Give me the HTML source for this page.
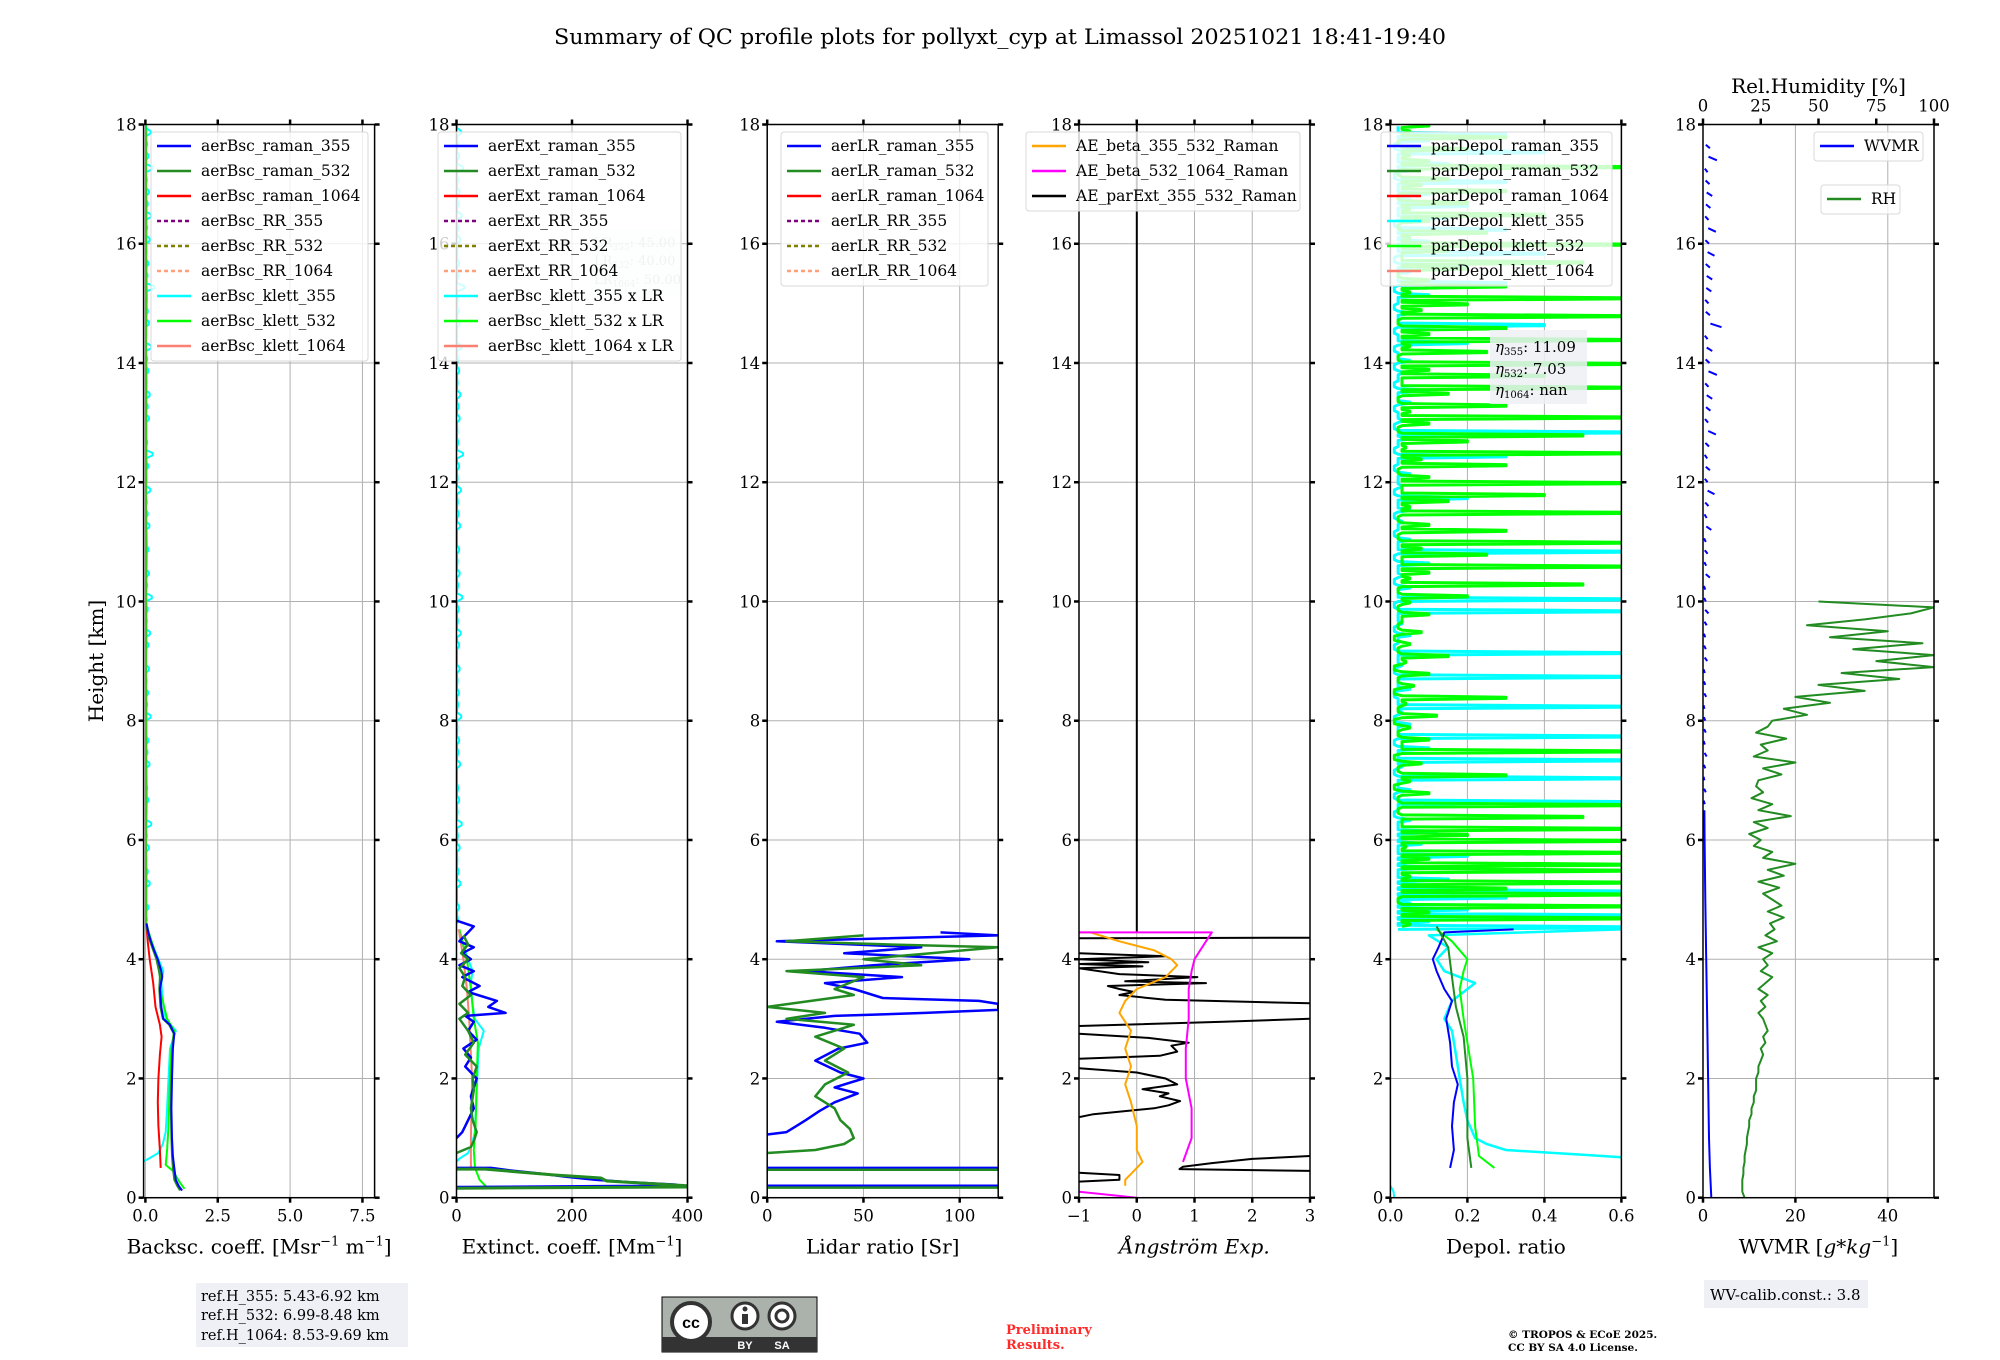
<!DOCTYPE html>
<html><head><meta charset="utf-8"><style>
html,body{margin:0;padding:0;background:#fff;}
svg{display:block;font-family:"DejaVu Serif","Liberation Serif",serif;}
</style></head><body>
<svg id="fig" xmlns="http://www.w3.org/2000/svg" width="2000" height="1360" viewBox="0 0 2000 1360">
<rect x="0" y="0" width="2000" height="1360" fill="#fff"/>
<text x="1000" y="44" text-anchor="middle" font-size="21" textLength="892" lengthAdjust="spacingAndGlyphs">Summary of QC profile plots for pollyxt_cyp at Limassol 20251021 18:41-19:40</text>
<text transform="translate(103,661) rotate(-90)" text-anchor="middle" font-size="20">Height [km]</text>
<g id="panels"></g>
<g>
<rect x="196" y="1283" width="212" height="64" fill="#eef0f5"/>
<text x="201" y="1301" font-size="14.5">ref.H_355: 5.43-6.92 km</text>
<text x="201" y="1320" font-size="14.5">ref.H_532: 6.99-8.48 km</text>
<text x="201" y="1340" font-size="14.5">ref.H_1064: 8.53-9.69 km</text>
</g>
<g>
<rect x="662" y="1297" width="155" height="55" fill="#aab2ab" stroke="#000" stroke-width="1"/>
<rect x="662" y="1337" width="155" height="15" fill="#333"/>
<circle cx="691" cy="1322" r="19" fill="#fff" stroke="#333" stroke-width="4"/>
<text x="691" y="1328" text-anchor="middle" font-size="16" font-weight="bold" font-family="Liberation Sans,sans-serif">cc</text>
<circle cx="745" cy="1316" r="13" fill="#fff" stroke="#333" stroke-width="3"/>
<rect x="742" y="1314" width="6" height="10" fill="#333"/><circle cx="745" cy="1309" r="2.5" fill="#333"/>
<circle cx="782" cy="1316" r="13" fill="#fff" stroke="#333" stroke-width="3"/>
<circle cx="782" cy="1316" r="6" fill="none" stroke="#333" stroke-width="3"/>
<text x="745" y="1349" text-anchor="middle" font-size="11" font-weight="bold" fill="#fff" font-family="Liberation Sans,sans-serif">BY</text>
<text x="782" y="1349" text-anchor="middle" font-size="11" font-weight="bold" fill="#fff" font-family="Liberation Sans,sans-serif">SA</text>
</g>
<g fill="#ff2a2a" font-size="13" font-weight="bold">
<text x="1006" y="1334">Preliminary</text><text x="1006" y="1349">Results.</text>
</g>
<g font-size="10.5" font-weight="bold">
<text x="1508" y="1338">© TROPOS &amp; ECoE 2025.</text><text x="1508" y="1351">CC BY SA 4.0 License.</text>
</g>
<g>
<rect x="1704" y="1280" width="164" height="28" fill="#eef0f5"/>
<text x="1710" y="1300" font-size="15">WV-calib.const.: 3.8</text>
</g>
</svg>
<script>
// ---------------- data ----------------
const bscH355=[0.12,0.2,0.3,0.5,0.7,1.0,1.5,2.0,2.5,2.75,2.9,3.0,3.2,3.5,3.7,3.8,4.0,4.15,4.3,4.45,4.6];
const bscRaman355=[1.27,1.15,1.05,1.0,0.95,0.92,0.9,0.92,0.95,1.0,0.85,0.62,0.55,0.5,0.58,0.55,0.43,0.3,0.19,0.1,0.04];
const bscRaman532=[1.2,1.1,1.0,0.95,0.92,0.9,0.88,0.9,0.93,0.98,0.82,0.6,0.52,0.48,0.5,0.47,0.38,0.27,0.16,0.08,0.03];
const bscH1064=[0.5,0.8,1.2,1.6,2.0,2.4,2.7,2.9,3.2,3.6,4.0,4.3,4.6];
const bscRaman1064=[0.53,0.5,0.45,0.43,0.45,0.5,0.56,0.5,0.35,0.27,0.15,0.08,0.03];
const bscHK532=[0.15,0.25,0.45,0.55,0.8,1.2,2.0,2.5,2.8,3.0,3.4,3.8,4.1,4.4,4.6];
const bscKlett532=[1.35,1.2,0.95,0.7,0.75,0.8,0.85,0.9,1.0,0.75,0.55,0.5,0.35,0.15,0.03];
const bscHK355=[0.6,0.65,0.75,0.9,1.1,1.5,2.0,2.5,2.8,3.0,3.3,3.6,3.8,4.0,4.3,4.5];
const bscKlett355=[-0.1,0.1,0.45,0.6,0.7,0.75,0.8,0.85,1.05,0.7,0.6,0.55,0.62,0.45,0.2,0.08];
const bscHighStart=4.6, bscHighStep=0.2;
const bscKlett355High=[0.05,0.1,0.02,0.15,0.08,0.03,0.12,0.05,0.2,0.04,0.1,0.06,0.02,0.14,0.07,0.1,0.03,0.18,0.06,0.09,0.04,0.12,0.02,0.1,0.16,0.05,0.08,0.22,0.06,0.12,0.04,0.1,0.02,0.14,0.08,0.05,0.17,0.04,0.1,0.25,0.06,0.03,0.12,0.08,0.15,0.04,0.1,0.06,0.2,0.03,0.12,0.08,0.05,0.3,0.07,0.1,0.04,0.15,0.06,0.2,0.08,0.12,0.05,0.25,0.1,0.06,0.18,0.08];
const bscKlett1064High=[0.04,0.05,0.03,0.06,0.04,0.05,0.03,0.05,0.04,0.06,0.03,0.05,0.04,0.05,0.03,0.06,0.04,0.05,0.03,0.04];
const extH355=[0.18,0.2,0.22,0.26,0.3,0.35,0.4,0.45,0.5,0.5];
const extNear355=[0,350,380,300,240,190,150,100,60,0];
const extNear532=[0,400,400,330,260,250,170,110,50,0];
const extHR355=[1.0,1.1,1.3,1.5,1.7,2.0,2.2,2.35,2.5,2.65,2.8,2.95,3.05,3.1,3.2,3.3,3.45,3.55,3.7,3.8,3.9,4.0,4.1,4.2,4.3,4.45,4.55,4.65];
const extRaman355=[0,10,20,30,25,35,15,25,12,35,20,30,15,85,55,70,20,40,10,30,5,25,10,30,5,20,30,0];
const extHR532=[0.75,0.85,0.95,1.1,1.3,1.5,1.8,2.0,2.2,2.4,2.6,2.8,3.0,3.1,3.25,3.4,3.55,3.7,3.85,4.0,4.1,4.25,4.4];
const extRaman532=[0,25,30,35,28,25,30,28,35,15,30,20,5,20,5,25,10,15,5,20,8,20,12];
const extHK532=[0.15,0.3,0.5,0.8,1.2,2.0,2.6,3.0,3.5,4.0,4.5];
const extKlett532=[55,40,32,30,33,35,37,30,25,18,5];
const extHK1064=[0.5,1.0,2.0,3.0,3.5,4.0,4.5];
const extKlett1064=[25,25,27,22,18,12,4];
const lrH355=[1.06,1.1,1.2,1.3,1.45,1.6,1.75,1.85,2.0,2.1,2.3,2.5,2.6,2.75,2.85,2.95,3.05,3.1,3.15,3.25,3.3,3.35,3.5,3.6,3.7,3.8,3.9,4.0,4.1,4.2,4.3,4.4,4.45];
const lrRaman355=[0,10,15,20,27,35,47,35,50,38,25,37,52,48,30,5,35,82,120,120,110,60,45,30,70,20,55,105,40,80,5,120,90];
const lrH532=[0.75,0.8,0.9,1.0,1.15,1.3,1.5,1.7,1.9,2.1,2.3,2.5,2.7,2.9,3.0,3.1,3.2,3.4,3.5,3.7,3.8,3.9,4.0,4.1,4.2,4.25,4.3,4.4];
const lrRaman532=[0,25,40,45,43,38,35,25,30,42,30,40,25,45,10,30,0,45,35,50,10,80,50,85,120,60,10,50];
const lrSurfaceH=[0.2,0.5];
const aeH355532=[0.2,0.3,0.4,0.6,0.8,1.2,1.6,1.9,2.2,2.5,2.8,3.1,3.3,3.5,3.7,3.9,4.0,4.15,4.3,4.45,4.45];
const aeBeta355532=[-0.2,-0.2,-0.1,0.1,0.0,0.0,-0.1,-0.2,-0.1,-0.2,-0.1,-0.3,-0.2,0.0,0.5,0.7,0.6,0.3,-0.3,-0.8,-1.0];
const aeH5321064=[0.0,0.1,NaN,0.6,1.0,1.5,2.0,2.5,3.0,3.5,3.8,4.0,4.3,4.45,4.45];
const aeBeta5321064=[0.0,-1.0,NaN,0.8,0.95,0.95,0.85,0.85,0.9,0.9,0.95,1.0,1.2,1.3,-1.0];
const aeHparExt=[0.27,0.3,0.38,0.42,NaN,0.45,0.48,0.52,0.58,0.65,0.7,NaN,1.35,1.4,1.5,1.55,1.62,1.7,1.75,1.82,1.9,2.0,2.1,2.17,NaN,2.33,2.38,2.45,2.55,2.6,2.68,2.75,NaN,2.88,2.95,3.0,NaN,3.26,3.32,3.4,3.45,3.5,3.55,3.6,3.63,3.7,3.75,3.85,3.88,3.92,3.95,4.0,4.05,4.1,NaN,4.35,4.36,NaN,4.45,18];
const aeParExt=[-1,-0.3,-0.3,-1,NaN,3,0.74,0.8,1.3,2,3,NaN,-1,-0.75,0.3,0.55,0.75,0.4,0.55,0.1,0.7,0.5,0,-1,NaN,-1,0.4,0.7,0.6,0.9,0.2,-1,NaN,-1,1.5,3,NaN,3,0.5,-0.3,-0.05,-0.3,-0.5,1.2,-0.2,1.05,-0.3,-1,0.1,-1,0.2,-1,0.5,-1,NaN,-1,3,NaN,0,0];
const dpH355=[0.5,0.8,1.2,1.6,1.9,2.2,2.6,3.0,3.3,3.5,3.8,4.0,4.2,4.35,4.45,4.5];
const dpRaman355=[0.155,0.165,0.16,0.165,0.175,0.16,0.155,0.145,0.16,0.14,0.12,0.11,0.125,0.135,0.14,0.32];
const dpH532=[0.5,1.0,2.0,2.7,3.2,3.7,4.2,4.55];
const dpRaman532=[0.21,0.2,0.2,0.19,0.17,0.16,0.15,0.12];
const dpHK532=[0.5,0.7,1.2,2.0,2.6,3.0,3.5,3.8,4.0,4.3,4.5];
const dpKlett532Low=[0.27,0.23,0.22,0.215,0.2,0.19,0.18,0.19,0.2,0.16,0.12];
const dpHK355=[0.65,0.68,0.72,0.8,0.9,1.0,1.3,1.6,2.0,2.4,2.8,3.0,3.3,3.6,3.8,4.0,4.2,4.4,4.5];
const dpKlett355Low=[0.6,0.6,0.5,0.3,0.25,0.22,0.2,0.19,0.18,0.17,0.16,0.14,0.16,0.22,0.14,0.12,0.15,0.1,0.6];
const dpHighStart=4.5, dpHighStep=0.1;
const dpKlett532High=[0.05,0.6,0.1,0.6,0.02,0.6,0.3,0.6,0.05,0.6,0.6,0.1,0.6,0.04,0.6,0.2,0.6,0.03,0.5,0.02,
0.6,0.02,0.1,0.01,0.05,0.3,0.02,0.08,0.01,0.6,0.03,0.1,0.02,0.05,0.01,0.12,0.02,0.04,0.3,0.01,0.06,0.02,0.1,0.01,0.04,0.15,0.02,0.05,0.01,0.08,0.02,0.03,0.1,0.02,0.05,
0.2,0.02,0.5,0.05,0.1,0.6,0.03,0.25,0.08,0.6,0.02,0.3,0.1,0.02,0.6,0.05,0.15,0.4,0.03,0.6,0.1,0.02,0.3,0.08,0.6,0.04,0.2,0.5,0.02,0.1,0.6,0.05,0.3,0.02,0.15,0.6,0.03,0.4,0.1,0.6,0.02,0.25,0.05,0.6,0.1,0.3,0.02,0.6,0.08,0.2,
0.6,0.05,0.3,0.1,0.02,0.2,0.5,0.03,0.15,0.6,0.05,0.25,0.02,0.1,0.4,0.05,0.2,0.02,0.3,0.08,0.15,0.02,0.6,0.1,0.05,0.2,0.02,0.3,0.05,0.1];
const dpKlett355High=[0.6,0.1,0.6,0.2,0.05,0.3,0.6,0.08,0.15,0.02,0.1,0.05,0.2,0.02,0.08,0.03,0.12,0.02,0.05,0.01,
0.02,0.6,0.01,0.05,0.02,0.6,0.01,0.03,0.6,0.02,0.1,0.01,0.6,0.02,0.05,0.01,0.03,0.6,0.02,0.01,0.05,0.02,0.6,0.01,0.03,0.02,0.6,0.01,0.02,0.05,0.01,0.03,0.02,0.6,0.01,
0.6,0.02,0.05,0.01,0.03,0.02,0.1,0.01,0.6,0.02,0.05,0.01,0.02,0.03,0.01,0.05,0.02,0.2,0.01,0.03,0.02,0.05,0.01,0.02,0.3,0.01,0.02,0.05,0.6,0.01,0.03,0.02,0.01,0.05,0.02,0.1,0.01,0.02,0.03,0.01,0.05,0.02,0.01,0.2,0.02,0.01,0.4,0.02,0.05,0.01,
0.02,0.1,0.01,0.3,0.02,0.05,0.2,0.01,0.4,0.02,0.1,0.05,0.3,0.01,0.15,0.02,0.2,0.05,0.1,0.02,0.3,0.01,0.05,0.15,0.02,0.4,0.01,0.1,0.3,0.02];
const dpSurfH=[0.0,0.1,0.2];
const dpSurf355=[0.01,0.008,0.0];
const wvH=[0.0,0.5,1.0,2.0,3.0,4.0,5.0,6.0,6.5];
const wvmr=[1.8,1.5,1.3,1.1,0.9,0.7,0.5,0.35,0.3];
const wvHighStart=6.6, wvHighStep=0.2;
const wvmrHigh=[0.4,0.6,0.3,0.5,0.8,0.4,0.6,0.5,0.3,0.7,0.5,0.4,0.9,0.6,0.5,0.8,1.2,0.6,0.5,1.5,0.7,1.0,0.6,1.8,0.8,1.2,2.5,1.0,1.5,0.9,1.3,2.8,1.1,1.6,2.0,1.2,3.0,1.4,2.0,1.0,4.0,1.5,1.2,1.8,2.0,1.5,2.5,1.3,2.8,1.2,1.6,2.0,1.4,1.0,3.0,1.5];
const rhStep=0.1;
const rhValues=[18,17,17,17,17.5,17.5,18,18,18.5,19,
19,19.5,20,20,21,21,22,22,23,23,
23,24,24,25,26,25,27,26,28,27,
26,24,27,25,28,24,27,30,25,28,
26,30,24,32,27,31,29,35,28,34,
30,26,33,24,35,28,40,26,30,22,
25,20,28,22,38,24,30,21,26,23,
24,34,26,40,22,28,25,36,23,28,
30,45,35,55,40,70,50,85,60,100,
75,100,65,95,55,80,45,70,90,100,50];
const yTicks=[0,2,4,6,8,10,12,14,16,18];
const p1Ticks=[0,2.5,5,7.5], p1Labels=["0.0","2.5","5.0","7.5"];
const p2Ticks=[0,200,400], p2Labels=["0","200","400"];
const p3Ticks=[0,50,100], p3Labels=["0","50","100"];
const p4Ticks=[-1,0,1,2,3], p4Labels=["\u22121","0","1","2","3"];
const p5Ticks=[0,0.2,0.4,0.6], p5Labels=["0.0","0.2","0.4","0.6"];
const p6Ticks=[0,20,40], p6Labels=["0","20","40"];
const rhTicks=[0,25,50,75,100], rhLabels=["0","25","50","75","100"];

// ---------------- drawing ----------------
const NS="http://www.w3.org/2000/svg";
const root=document.getElementById('panels');
const TOP=124.5, BOT=1197.7, W=231, HMAX=18;
function ys(h){return BOT-(h/HMAX)*(BOT-TOP);}
function mk(tag,attrs,parent){const e=document.createElementNS(NS,tag);for(const k in attrs)e.setAttribute(k,attrs[k]);(parent||root).appendChild(e);return e;}
function makePanel(id,left,xmin,xmax){
  const g=mk('g',{});
  
  
  const cp=mk('clipPath',{id:'clip-'+id},g);
  mk('rect',{x:left,y:TOP,width:W,height:BOT-TOP},cp);
  const P={g,left,xmin,xmax,xs:v=>left+(v-xmin)/(xmax-xmin)*W};
  P.grid=mk('g',{},g);
  P.data=mk('g',{'clip-path':'url(#clip-'+id+')'},g);
  P.axes=mk('g',{},g);
  return P;
}
function drawLine(P,hs,vs,color,width,name,dash,opacity){
  let d='',pen=false;
  for(let i=0;i<hs.length;i++){
    const h=hs[i],v=vs[i];
    if(isNaN(h)||isNaN(v)){pen=false;continue;}
    d+=(pen?'L':'M')+P.xs(v).toFixed(1)+' '+ys(h).toFixed(1);pen=true;
  }
  const e=mk('path',{d:d,fill:'none',stroke:color,'stroke-width':width,'stroke-linejoin':'round'},P.data);
  if(dash)e.setAttribute('stroke-dasharray',dash);
  if(opacity)e.setAttribute('stroke-opacity',opacity);
  
  
  return e;
}
// spiky profile: each value drawn as a near-horizontal excursion from a small baseline
function drawSpikes(P,start,step,vs,base,color,width,name){
  const hs=[],xs=[];
  vs.forEach((v,i)=>{const h=start+step*i;
    hs.push(h,h+step*0.25,h+step*0.45,h+step*0.7);
    xs.push(Math.min(v,base),v,v,Math.min(v,base));});
  return drawLine(P,hs,xs,color,width,name);
}
function stepHeights(start,step,n){const a=[];for(let i=0;i<n;i++)a.push(start+step*i);return a;}
function drawAxes(P,ticks,labels,title,topTicks){
  const {left}=P,right=left+W;
  ticks.forEach(t=>{const x=P.xs(t);mk('line',{x1:x,x2:x,y1:TOP,y2:BOT,stroke:'#b0b0b0','stroke-width':1},P.grid);});
  yTicks.forEach(h=>{const y=ys(h);mk('line',{x1:left,x2:right,y1:y,y2:y,stroke:'#b0b0b0','stroke-width':1},P.grid);});
  mk('rect',{x:left,y:TOP,width:W,height:BOT-TOP,fill:'none',stroke:'#000','stroke-width':1.5},P.axes);
  yTicks.forEach(h=>{const y=ys(h);
    mk('line',{x1:left-5,x2:left,y1:y,y2:y,stroke:'#000','stroke-width':2.5},P.axes);
    mk('line',{x1:right,x2:right+5,y1:y,y2:y,stroke:'#000','stroke-width':2.5},P.axes);
    const t=mk('text',{x:left-7,y:y+6,'text-anchor':'end','font-size':16.5},P.axes);t.textContent=String(h);
    
    
  });
  ticks.forEach((v,i)=>{const x=P.xs(v);
    mk('line',{x1:x,x2:x,y1:BOT,y2:BOT+5,stroke:'#000','stroke-width':2.5},P.axes);
    if(!topTicks)mk('line',{x1:x,x2:x,y1:TOP-5,y2:TOP,stroke:'#000','stroke-width':2.5},P.axes);
    const t=mk('text',{x:x,y:BOT+24,'text-anchor':'middle','font-size':16.5},P.axes);t.textContent=labels[i];
    
    
  });
  const tt=mk('text',{x:left+W/2,y:BOT+56,'text-anchor':'middle','font-size':20},P.axes);
  tt.innerHTML=title;
  
  
}
function legend(P,x,y,w,entries,name){
  const g=mk('g',{},P.g);
  
  
  mk('rect',{x:x,y:y,width:w,height:entries.length*25+4,rx:3,fill:'#fff','fill-opacity':0.8,stroke:'#d8d8d8','stroke-width':1},g);
  entries.forEach((e,i)=>{const yy=y+14+i*25;
    const l=mk('line',{x1:x+6,x2:x+40,y1:yy,y2:yy,stroke:e[1],'stroke-width':2.5},g);
    if(e[2])l.setAttribute('stroke-dasharray','4,3');
    const t=mk('text',{x:x+50,y:yy+5,'font-size':15.5},g);t.textContent=e[0];
    
    
  });
}
const lefts=[143.6,456.5,767.2,1079,1390.4,1703];
// Panel 1
let P=makePanel('backscatter-panel',lefts[0],-0.062,7.92);
drawSpikes(P,bscHighStart,bscHighStep,bscKlett355High,0.02,'#00ffff',2,'bsc-klett-355-high');
drawLine(P,stepHeights(4.6,0.7,bscKlett1064High.length),bscKlett1064High,'#fa8072',1.5,'bsc-klett-1064-high');
drawLine(P,[4.6,18],[0.02,0.02],'#00dd00',1.5,'bsc-klett-532-high');
drawLine(P,bscHK355,bscKlett355,'#00ffff',2,'bsc-klett-355');
drawLine(P,bscHK532,bscKlett532,'#00ff00',2,'bsc-klett-532');
drawLine(P,bscH1064,bscRaman1064,'#ff0000',2,'bsc-raman-1064');
drawLine(P,bscH355,bscRaman532,'#228b22',2,'bsc-raman-532');
drawLine(P,bscH355,bscRaman355,'#0000ff',2,'bsc-raman-355');
drawAxes(P,p1Ticks,p1Labels,'Backsc. coeff. [Msr<tspan dy="-8" font-size="13">\u22121</tspan><tspan dy="8"> m</tspan><tspan dy="-8" font-size="13">\u22121</tspan><tspan dy="8">]</tspan>');
legend(P,151,132,217,[['aerBsc_raman_355','#0000ff'],['aerBsc_raman_532','#228b22'],['aerBsc_raman_1064','#ff0000'],['aerBsc_RR_355','#800080',1],['aerBsc_RR_532','#808000',1],['aerBsc_RR_1064','#ffa07a',1],['aerBsc_klett_355','#00ffff'],['aerBsc_klett_532','#00ff00'],['aerBsc_klett_1064','#fa8072']],'backscatter-legend');
// Panel 2
P=makePanel('extinction-panel',lefts[1],0,400);
drawSpikes(P,bscHighStart,bscHighStep,bscKlett355High.map(v=>v*45),1,'#00ffff',2,'ext-klett-355-high');
drawLine(P,bscHK355,bscKlett355.map(v=>Math.max(v,0)*45),'#00ffff',2,'ext-klett-355');
drawLine(P,extHK532,extKlett532,'#00ff00',2,'ext-klett-532');
drawLine(P,extHK1064,extKlett1064,'#fa8072',2,'ext-klett-1064');
drawLine(P,extHR355,extRaman355,'#0000ff',2.5,'ext-raman-355');
drawLine(P,extHR532,extRaman532,'#228b22',2.5,'ext-raman-532');
drawLine(P,extH355,extNear355,'#0000ff',2.5,'ext-raman-355-near');
drawLine(P,extH355.map(h=>h-0.02),extNear532,'#228b22',3,'ext-raman-532-near');
drawAxes(P,p2Ticks,p2Labels,'Extinct. coeff. [Mm<tspan dy="-8" font-size="13">\u22121</tspan><tspan dy="8">]</tspan>');
const lrb=mk('g',{},P.g);


mk('rect',{x:590,y:230,width:92,height:65,fill:'#eef0f5','fill-opacity':0.5},lrb);
[['LR',"355",': 45.00',247],['LR',"532",': 40.00',265],['LR',"1064",': 50.00',284]].forEach(a=>{const t=mk('text',{x:594,y:a[3],'font-size':13,fill:'#bbb'},lrb);t.innerHTML=a[0]+'<tspan dy="3" font-size="9">'+a[1]+'</tspan><tspan dy="-3">'+a[2]+'</tspan>';});
legend(P,438,132,243,[['aerExt_raman_355','#0000ff'],['aerExt_raman_532','#228b22'],['aerExt_raman_1064','#ff0000'],['aerExt_RR_355','#800080',1],['aerExt_RR_532','#808000',1],['aerExt_RR_1064','#ffa07a',1],['aerBsc_klett_355 x LR','#00ffff'],['aerBsc_klett_532 x LR','#00ff00'],['aerBsc_klett_1064 x LR','#fa8072']],'extinction-legend');
// Panel 3
P=makePanel('lidar-ratio-panel',lefts[2],0,120);
lrSurfaceH.forEach(h=>{drawLine(P,[h,h],[0,120],'#0000ff',2.5,'lr-raman-355-surface');drawLine(P,[h-0.03,h-0.03],[0,120],'#228b22',2.5,'lr-raman-532-surface');});
drawLine(P,lrH355,lrRaman355,'#0000ff',2.5,'lr-raman-355');
drawLine(P,lrH532,lrRaman532,'#228b22',2.5,'lr-raman-532');
drawAxes(P,p3Ticks,p3Labels,'Lidar ratio [Sr]');
legend(P,781,132,207,[['aerLR_raman_355','#0000ff'],['aerLR_raman_532','#228b22'],['aerLR_raman_1064','#ff0000'],['aerLR_RR_355','#800080',1],['aerLR_RR_532','#808000',1],['aerLR_RR_1064','#ffa07a',1]],'lidar-ratio-legend');
// Panel 4
P=makePanel('angstrom-panel',lefts[3],-1,3);
drawLine(P,aeHparExt,aeParExt,'#000',2,'ae-parext-355-532');
drawLine(P,aeH355532,aeBeta355532,'#ffa500',2,'ae-beta-355-532');
drawLine(P,aeH5321064,aeBeta5321064,'#ff00ff',2,'ae-beta-532-1064');
drawAxes(P,p4Ticks,p4Labels,'<tspan font-style="italic">Ångström Exp.</tspan>');
legend(P,1026,132,274,[['AE_beta_355_532_Raman','#ffa500'],['AE_beta_532_1064_Raman','#ff00ff'],['AE_parExt_355_532_Raman','#000']],'angstrom-legend');
// Panel 5
P=makePanel('depol-panel',lefts[4],0,0.6);
drawSpikes(P,dpHighStart,dpHighStep,dpKlett355High,0.02,'#00ffff',3,'depol-klett-355-high');
drawSpikes(P,dpHighStart+0.05,dpHighStep,dpKlett532High,0.03,'#00ff00',3,'depol-klett-532-high');
drawLine(P,dpSurfH,dpSurf355,'#00ffff',2,'depol-klett-355-surface');
drawLine(P,dpHK355,dpKlett355Low,'#00ffff',2.5,'depol-klett-355');
drawLine(P,dpHK532,dpKlett532Low,'#00ff00',2,'depol-klett-532');
drawLine(P,dpH355,dpRaman355,'#0000ff',2,'depol-raman-355');
drawLine(P,dpH532,dpRaman532,'#228b22',2,'depol-raman-532');
drawAxes(P,p5Ticks,p5Labels,'Depol. ratio');
legend(P,1381,132,231,[['parDepol_raman_355','#0000ff'],['parDepol_raman_532','#228b22'],['parDepol_raman_1064','#ff0000'],['parDepol_klett_355','#00ffff'],['parDepol_klett_532','#00ff00'],['parDepol_klett_1064','#fa8072']],'depol-legend');
const eta=mk('g',{},P.g);


mk('rect',{x:1490,y:330,width:97,height:74,fill:'#eef0f5','fill-opacity':0.85},eta);
[['355',': 11.09',352],['532',': 7.03',374],['1064',': nan',395]].forEach(a=>{const t=mk('text',{x:1495,y:a[2],'font-size':15},eta);t.innerHTML='<tspan font-style="italic">η</tspan><tspan dy="3" font-size="10">'+a[0]+'</tspan><tspan dy="-3">'+a[1]+'</tspan>';});
// Panel 6
P=makePanel('water-vapor-panel',lefts[5],0,50);
drawLine(P,wvH,wvmr,'#0000ff',2,'wvmr-low');
wvmrHigh.forEach((v,i)=>{const h=wvHighStart+wvHighStep*i;drawLine(P,[h,h+0.06],[v,v*0.4],'#0000ff',2,'wvmr-dash');});
drawLine(P,stepHeights(0,rhStep,rhValues.length),rhValues.map(v=>v/2),'#228b22',2,'rh-profile');
drawAxes(P,p6Ticks,p6Labels,'WVMR [<tspan font-style="italic">g</tspan>*<tspan font-style="italic">kg</tspan><tspan dy="-8" font-size="13">\u22121</tspan><tspan dy="8">]</tspan>',true);
rhTicks.forEach((v,i)=>{const x=lefts[5]+v/100*W;
  mk('line',{x1:x,x2:x,y1:TOP-6,y2:TOP,stroke:'#000','stroke-width':2.5},P.axes);
  const t=mk('text',{x:x,y:TOP-13,'text-anchor':'middle','font-size':16.5},P.axes);t.textContent=rhLabels[i];
  
  
});
const rht=mk('text',{x:lefts[5]+W/2,y:93,'text-anchor':'middle','font-size':20},P.axes);rht.textContent='Rel.Humidity [%]';


legend(P,1814,132,109,[['WVMR','#0000ff']],'wvmr-legend');
legend(P,1821,185,79,[['RH','#228b22']],'rh-legend');
</script>
</body></html>
